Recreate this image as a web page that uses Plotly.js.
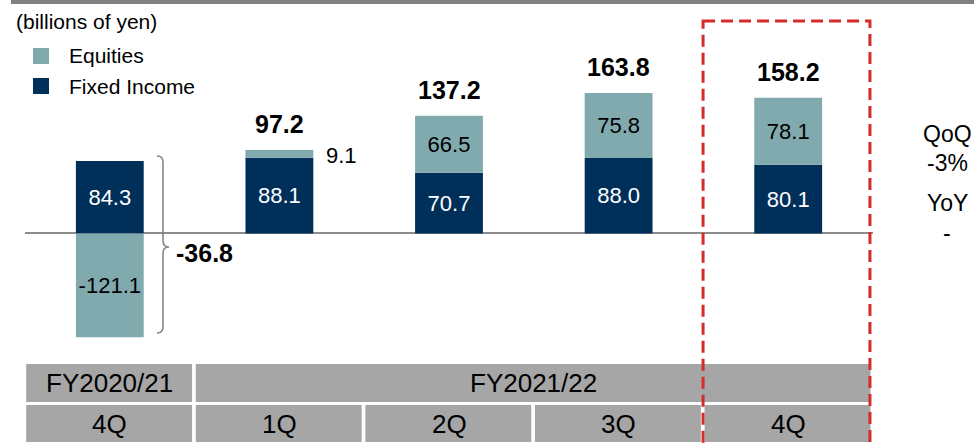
<!DOCTYPE html>
<html><head><meta charset="utf-8">
<script src="https://cdn.plot.ly/plotly-3.0.1.min.js"></script>
<style>html,body{margin:0;padding:0;background:#fff;}#chart{width:974px;height:447px;}</style>
</head><body><div id="chart"></div>
<script>
// ---- data ----
const categories = ['FY2020/21 4Q', 'FY2021/22 1Q', 'FY2021/22 2Q', 'FY2021/22 3Q', 'FY2021/22 4Q'];
const quarterLabels = ['4Q', '1Q', '2Q', '3Q', '4Q'];
const fiscalYears = ['FY2020/21', 'FY2021/22'];
const fiscalYearSpans = [[0, 0], [1, 4]];
const fixedIncome = [84.3, 88.1, 70.7, 88.0, 80.1];
const equities = [-121.1, 9.1, 66.5, 75.8, 78.1];
const seriesNames = ['Equities', 'Fixed Income'];
const sideNotes = ['QoQ', '-3%', 'YoY', '-'];
const unitLabel = '(billions of yen)';

// ---- styling ----
const FONT = 'Liberation Sans, Arial, sans-serif';
const NAVY = '#00305a';
const TEAL = '#80aaad';
const W = 974, H = 447;
const M = {l: 25, r: 101, t: 19, b: 85};
const PW = W - M.l - M.r, PH = H - M.t - M.b;
const px = x => (x - M.l) / PW;
const py = y => (M.t + PH - y) / PH;

const traces = [
  {
    type: 'bar', name: seriesNames[1], x: categories, y: fixedIncome,
    marker: {color: NAVY, line: {width: 0}},
    text: fixedIncome.map(v => v.toFixed(1)), textposition: 'inside',
    insidetextanchor: 'middle', textangle: 0, constraintext: 'none',
    textfont: {family: FONT, size: 22, color: '#ffffff'}, hoverinfo: 'skip'
  },
  {
    type: 'bar', name: seriesNames[0], x: categories, y: equities,
    marker: {color: TEAL, line: {width: 0}},
    text: equities.map(v => v.toFixed(1)),
    textposition: equities.map(v => Math.abs(v) < 20 ? 'none' : 'inside'),
    insidetextanchor: 'middle', textangle: 0, constraintext: 'none',
    textfont: {family: FONT, size: 22, color: '#000000'}, hoverinfo: 'skip'
  }
];

const shapes = [];
const annotations = [];

// top rule
shapes.push({type: 'line', xref: 'paper', yref: 'paper', x0: px(11), x1: px(974), y0: py(2), y1: py(2),
  line: {color: '#808080', width: 4}});

// unit label
annotations.push({xref: 'paper', yref: 'paper', x: px(14), y: py(22), xanchor: 'left', yanchor: 'middle',
  text: unitLabel, showarrow: false, font: {family: FONT, size: 21, color: '#000'}});

// legend
const legendColors = [TEAL, NAVY];
seriesNames.forEach((nm, i) => {
  const cy = 56 + i * 30;
  shapes.push({type: 'rect', xref: 'paper', yref: 'paper', x0: px(33), x1: px(49), y0: py(cy - 8), y1: py(cy + 8),
    fillcolor: legendColors[i], line: {width: 0}});
  annotations.push({xref: 'paper', yref: 'paper', x: px(67), y: py(cy), xanchor: 'left', yanchor: 'middle',
    text: nm, showarrow: false, font: {family: FONT, size: 21, color: '#000'}});
});

// totals
categories.forEach((c, i) => {
  const total = fixedIncome[i] + equities[i];
  if (equities[i] < 0 || fixedIncome[i] < 0) {
    annotations.push({xref: 'x', yref: 'y', x: i, y: 0, xshift: 95, yshift: -20, xanchor: 'center', yanchor: 'middle',
      text: '<b>' + total.toFixed(1) + '</b>', showarrow: false, font: {family: FONT, size: 25, color: '#000'}});
  } else {
    annotations.push({xref: 'x', yref: 'y', x: i, y: total, yshift: 26, xanchor: 'center', yanchor: 'middle',
      text: '<b>' + total.toFixed(1) + '</b>', showarrow: false, font: {family: FONT, size: 25, color: '#000'}});
  }
  if (Math.abs(equities[i]) < 20) {
    annotations.push({xref: 'x', yref: 'y', x: i, y: fixedIncome[i] + equities[i] / 2, xshift: 45, yshift: -2,
      xanchor: 'left', yanchor: 'middle', text: equities[i].toFixed(1), showarrow: false,
      font: {family: FONT, size: 22, color: '#000'}});
  }
});

// brace
const P = (x, y) => px(x).toFixed(5) + ',' + py(y).toFixed(5);
shapes.push({type: 'path', xref: 'paper', yref: 'paper',
  path: 'M' + P(157, 156) + ' Q' + P(163, 156) + ' ' + P(163, 162) + ' L' + P(163, 241) +
        ' Q' + P(163, 247) + ' ' + P(169, 247) + ' Q' + P(163, 247) + ' ' + P(163, 253) +
        ' L' + P(163, 327) + ' Q' + P(163, 333) + ' ' + P(157, 333),
  line: {color: '#808080', width: 1.5}});

// table
const gl = 0.007, gr = 0.015;
fiscalYears.forEach((fy, k) => {
  const [a, b] = fiscalYearSpans[k];
  shapes.push({type: 'rect', xref: 'x', yref: 'paper', x0: a - 0.5 + gl, x1: b + 0.5 - gr, y0: py(364), y1: py(402),
    fillcolor: '#a6a6a6', line: {width: 0}, layer: 'below'});
  annotations.push({xref: 'x', yref: 'paper', x: (a + b) / 2, y: py(383), xanchor: 'center', yanchor: 'middle',
    text: fy, showarrow: false, font: {family: FONT, size: 26, color: '#000'}});
});
quarterLabels.forEach((q, i) => {
  shapes.push({type: 'rect', xref: 'x', yref: 'paper', x0: i - 0.5 + gl, x1: i + 0.5 - gr, y0: py(405), y1: py(442),
    fillcolor: '#a6a6a6', line: {width: 0}, layer: 'below'});
  annotations.push({xref: 'x', yref: 'paper', x: i, y: py(423.5), xanchor: 'center', yanchor: 'middle',
    text: q, showarrow: false, font: {family: FONT, size: 26, color: '#000'}});
});

// highlight box
shapes.push({type: 'rect', xref: 'x', yref: 'paper', x0: 3.498, x1: 4.482, y0: py(21), y1: py(470),
  fillcolor: 'rgba(0,0,0,0)', line: {color: '#d52b2b', width: 3, dash: '12px,6px'}});

// side notes
const noteY = [134, 163, 203, 233];
sideNotes.forEach((t, i) => {
  annotations.push({xref: 'paper', yref: 'paper', x: px(947), y: py(noteY[i]), xanchor: 'center', yanchor: 'middle',
    text: t, showarrow: false, font: {family: FONT, size: 23, color: '#000'}});
});

const layout = {
  width: W, height: H, margin: M,
  paper_bgcolor: '#fff', plot_bgcolor: '#fff',
  barmode: 'relative', bargap: 0.6, showlegend: false,
  font: {family: FONT, color: '#000'},
  xaxis: {type: 'category', range: [-0.5, 4.5], showticklabels: false, showgrid: false, zeroline: false,
    showline: false, ticks: '', fixedrange: true},
  yaxis: {range: [-150, 250], showticklabels: false, showgrid: false, zeroline: true,
    zerolinecolor: '#8c8c8c', zerolinewidth: 2, showline: false, ticks: '', fixedrange: true},
  shapes: shapes, annotations: annotations
};

Plotly.newPlot('chart', traces, layout, {displayModeBar: false, staticPlot: true});
</script>
</body></html>
